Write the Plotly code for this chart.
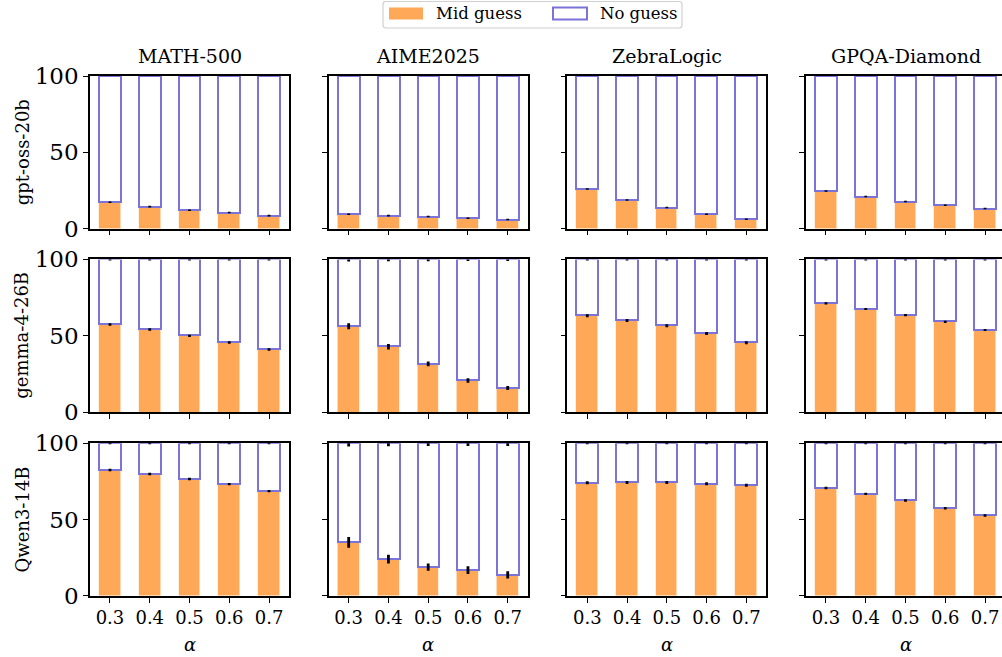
import plotly.graph_objects as go

# ---------------- data ----------------
benchmarks = ["MATH-500", "AIME2025", "ZebraLogic", "GPQA-Diamond"]
models = ["gpt-oss-20b", "gemma-4-26B", "Qwen3-14B"]
alpha_labels = ["0.3", "0.4", "0.5", "0.6", "0.7"]

# "Mid guess" share (%) per benchmark, for each alpha
mid_gpt_oss_20b = [
    [17.3, 14.4, 12.0, 10.5, 8.5],
    [9.4, 8.5, 7.9, 6.8, 5.9],
    [26.0, 18.8, 13.8, 9.4, 6.2],
    [24.7, 21.0, 17.7, 15.3, 13.1],
]
mid_gemma_4_26b = [
    [57.3, 54.1, 49.9, 45.5, 40.9],
    [56.2, 42.7, 31.5, 20.6, 15.7],
    [63.1, 60.0, 56.5, 51.5, 45.4],
    [71.2, 67.5, 63.5, 59.1, 53.7],
]
mid_qwen3_14b = [
    [82.4, 79.8, 76.5, 73.2, 68.6],
    [35.0, 24.0, 18.8, 16.8, 13.7],
    [74.1, 74.3, 74.3, 73.4, 72.4],
    [70.6, 66.8, 62.5, 57.4, 52.6],
]
# error (+/-) on mid guess share
mid_err_gpt_oss_20b = [
    [0.5, 0.5, 0.5, 0.5, 0.5],
    [0.5, 0.5, 0.5, 0.5, 0.5],
    [0.5, 0.5, 0.5, 0.5, 0.5],
    [0.5, 0.5, 0.5, 0.5, 0.5],
]
mid_err_gemma_4_26b = [
    [0.8, 0.8, 0.8, 0.8, 0.8],
    [2.0, 1.8, 1.6, 1.5, 1.3],
    [1.0, 1.0, 1.0, 1.0, 1.0],
    [0.7, 0.7, 0.7, 0.7, 0.7],
]
mid_err_qwen3_14b = [
    [0.8, 0.8, 0.8, 0.8, 0.8],
    [3.5, 2.9, 2.4, 2.5, 2.4],
    [1.0, 1.0, 1.0, 1.0, 1.0],
    [0.8, 0.8, 0.8, 0.8, 0.8],
]
# error (+/-) on no guess share (drawn at top of stack)
no_err_gpt_oss_20b = [
    [0.0, 0.0, 0.0, 0.0, 0.0],
    [0.0, 0.0, 0.0, 0.0, 0.0],
    [0.0, 0.0, 0.0, 0.0, 0.0],
    [0.0, 0.0, 0.0, 0.0, 0.0],
]
no_err_gemma_4_26b = [
    [0.7, 0.7, 0.7, 0.7, 0.7],
    [1.3, 1.2, 1.2, 1.1, 1.0],
    [0.7, 0.7, 0.7, 0.7, 0.7],
    [0.7, 0.7, 0.7, 0.7, 0.7],
]
no_err_qwen3_14b = [
    [0.7, 0.7, 0.7, 0.7, 0.7],
    [2.2, 2.0, 1.8, 1.8, 1.8],
    [0.7, 0.7, 0.7, 0.7, 0.7],
    [0.7, 0.7, 0.7, 0.7, 0.7],
]

mid_all = [mid_gpt_oss_20b, mid_gemma_4_26b, mid_qwen3_14b]
mid_err_all = [mid_err_gpt_oss_20b, mid_err_gemma_4_26b, mid_err_qwen3_14b]
no_err_all = [no_err_gpt_oss_20b, no_err_gemma_4_26b, no_err_qwen3_14b]

# ---------------- style ----------------
W, H = 1002, 657
ORANGE = "#FFA857"
PURPLE = "#7B73D8"
FONT = "DejaVu Serif"
BAR_W = 0.55
ERR_T = 2.8

col_left = [90, 328.7, 567.3, 806]
col_w = 199
row_top = [76, 259.4, 443.2]
row_h = 152.6

def fx(px):
    return px / W

def fy(py):
    return 1 - py / H

x_lo, x_hi = -0.5025, 4.5025
units_per_px = (x_hi - x_lo) / col_w

fig = go.Figure()
annotations = []
shapes = []

xpos = list(range(len(alpha_labels)))

for r, model in enumerate(models):
    for c, bench in enumerate(benchmarks):
        idx = r * 4 + c + 1
        xa = "x" if idx == 1 else f"x{idx}"
        ya = "y" if idx == 1 else f"y{idx}"
        mid = mid_all[r][c]
        nog = [100 - v for v in mid]
        stack_top = [m + n for m, n in zip(mid, nog)]
        fig.add_trace(go.Bar(
            x=xpos, y=mid, xaxis=xa, yaxis=ya, width=BAR_W,
            marker=dict(color=ORANGE, line=dict(color="rgba(255,235,215,0.9)", width=0.8)),
            showlegend=False, name="Mid guess",
        ))
        fig.add_trace(go.Bar(
            x=xpos, y=nog, xaxis=xa, yaxis=ya, width=BAR_W,
            marker=dict(color="white", line=dict(color=PURPLE, width=2)),
            showlegend=False, name="No guess",
        ))
        # error bars drawn above the bars
        fig.add_trace(go.Scatter(
            x=xpos, y=mid, xaxis=xa, yaxis=ya, mode="markers",
            marker=dict(size=1, color="rgba(0,0,0,0)"),
            error_y=dict(type="data", array=mid_err_all[r][c], color="black",
                         thickness=ERR_T, width=0),
            showlegend=False, hoverinfo="skip",
        ))
        fig.add_trace(go.Scatter(
            x=xpos, y=stack_top, xaxis=xa, yaxis=ya, mode="markers",
            marker=dict(size=1, color="rgba(0,0,0,0)"),
            error_y=dict(type="data", array=no_err_all[r][c], color="black",
                         thickness=ERR_T, width=0),
            showlegend=False, hoverinfo="skip",
        ))
        left = col_left[c]
        right = min(left + col_w, W)
        xr_hi = x_lo + (right - left) * units_per_px
        top = row_top[r]
        bot = top + row_h
        xkey = "xaxis" if idx == 1 else f"xaxis{idx}"
        ykey = "yaxis" if idx == 1 else f"yaxis{idx}"
        fig.layout[xkey] = dict(
            domain=[fx(left), fx(right)], anchor=ya, range=[x_lo, xr_hi],
            tickmode="array", tickvals=xpos,
            ticktext=alpha_labels if r == 2 else [""] * 5,
            showticklabels=(r == 2), automargin=False,
            ticks="outside", ticklen=5, tickwidth=1.3, tickcolor="black",
            showline=True, linecolor="black", linewidth=1.5, mirror=True,
            showgrid=False, zeroline=False, fixedrange=True,
            tickfont=dict(family=FONT, size=18, color="black"),
        )
        fig.layout[ykey] = dict(
            domain=[fy(bot), fy(top)], anchor=xa, range=[0, 100],
            tickmode="array", tickvals=[0, 50, 100],
            showticklabels=(c == 0), automargin=False,
            ticks="outside", ticklen=5, tickwidth=1.3, tickcolor="black",
            showline=True, linecolor="black", linewidth=1.5,
            mirror=(c != 3),
            showgrid=False, zeroline=False, fixedrange=True,
            tickfont=dict(family=FONT, size=23, color="black"),
        )
        if r == 0:
            annotations.append(dict(
                text=bench, x=fx(left + col_w / 2), y=fy(56), xref="paper", yref="paper",
                showarrow=False, xanchor="center", yanchor="middle",
                font=dict(family=FONT, size=19, color="black"),
            ))
        if r == 2:
            annotations.append(dict(
                text="<i>α</i>", x=fx(left + col_w / 2), y=fy(644), xref="paper", yref="paper",
                showarrow=False, xanchor="center", yanchor="middle",
                font=dict(family=FONT, size=18, color="black"),
            ))
    annotations.append(dict(
        text=model, x=fx(22), y=fy(row_top[r] + row_h / 2), xref="paper", yref="paper",
        showarrow=False, xanchor="center", yanchor="middle", textangle=-90,
        font=dict(family=FONT, size=18, color="black"),
    ))

# legend (drawn manually to match the wide patches)
lx0, lx1, ly0, ly1, rad = 383, 682, 1.5, 28, 3
path = (f"M {fx(lx0+rad)},{fy(ly0)} L {fx(lx1-rad)},{fy(ly0)} "
        f"Q {fx(lx1)},{fy(ly0)} {fx(lx1)},{fy(ly0+rad)} L {fx(lx1)},{fy(ly1-rad)} "
        f"Q {fx(lx1)},{fy(ly1)} {fx(lx1-rad)},{fy(ly1)} L {fx(lx0+rad)},{fy(ly1)} "
        f"Q {fx(lx0)},{fy(ly1)} {fx(lx0)},{fy(ly1-rad)} L {fx(lx0)},{fy(ly0+rad)} "
        f"Q {fx(lx0)},{fy(ly0)} {fx(lx0+rad)},{fy(ly0)} Z")
shapes.append(dict(type="path", path=path, xref="paper", yref="paper",
                   line=dict(color="#d0d0d0", width=1.2), fillcolor="white", layer="above"))
shapes.append(dict(type="rect", xref="paper", yref="paper",
                   x0=fx(389), x1=fx(423), y0=fy(19.5), y1=fy(7.5),
                   fillcolor=ORANGE, line=dict(width=0), layer="above"))
shapes.append(dict(type="rect", xref="paper", yref="paper",
                   x0=fx(553), x1=fx(587), y0=fy(19.5), y1=fy(7.5),
                   fillcolor="white", line=dict(color=PURPLE, width=2), layer="above"))
annotations.append(dict(text="Mid guess", x=fx(434), y=fy(13.5), xref="paper", yref="paper",
                        showarrow=False, xanchor="left", yanchor="middle",
                        font=dict(family=FONT, size=16.5, color="black")))
annotations.append(dict(text="No guess", x=fx(598), y=fy(13.5), xref="paper", yref="paper",
                        showarrow=False, xanchor="left", yanchor="middle",
                        font=dict(family=FONT, size=16.5, color="black")))

fig.update_layout(
    template="none",
    width=W, height=H, autosize=False,
    margin=dict(l=0, r=0, t=0, b=0, pad=0),
    barmode="stack", bargap=0,
    plot_bgcolor="white", paper_bgcolor="white",
    annotations=annotations, shapes=shapes,
    showlegend=False,
)

fig.write_html(
    "out.html",
    config={"displayModeBar": False},
    post_script="document.body.style.margin='0';document.body.style.overflow='hidden';",
)
